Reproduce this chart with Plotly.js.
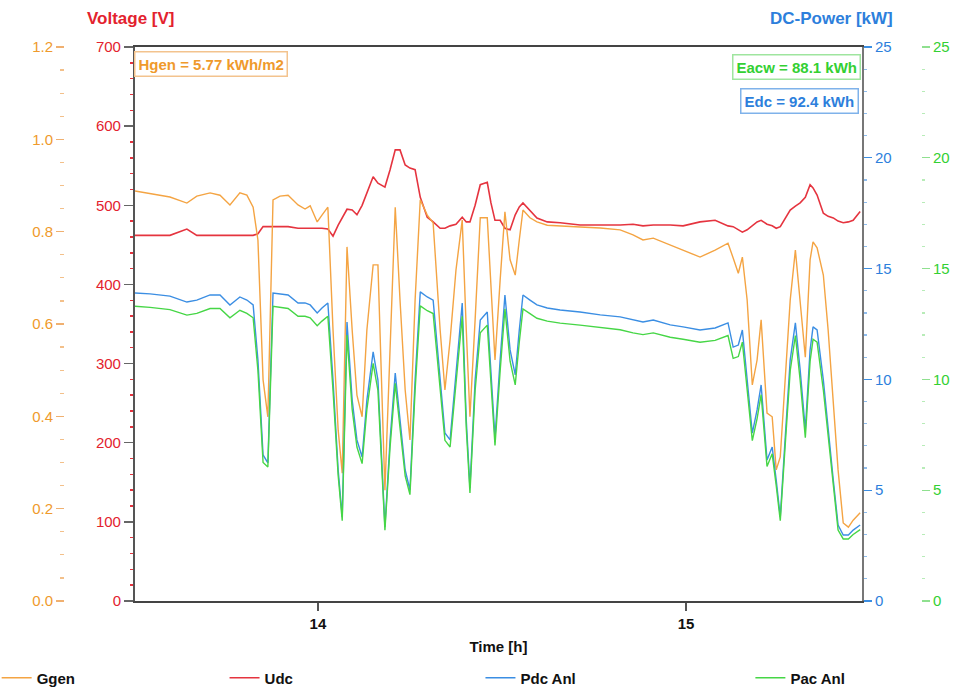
<!DOCTYPE html>
<html>
<head>
<meta charset="utf-8">
<script src="https://cdn.plot.ly/plotly-3.0.1.min.js"></script>
<style>
html,body{margin:0;padding:0;background:#fff;}
#chart{width:974px;height:689px;}
</style>
</head>
<body>
<div id="chart"></div>
<script>
// Time [h]
var time = [13.503,13.544,13.598,13.644,13.671,13.707,13.734,13.761,13.788,13.807,
 13.824,13.837,13.851,13.864,13.878,13.897,13.919,13.946,13.965,13.979,
 13.998,14.011,14.027,14.041,14.055,14.066,14.079,14.093,14.106,14.120,
 14.133,14.150,14.163,14.182,14.196,14.210,14.223,14.237,14.250,14.264,
 14.278,14.297,14.313,14.332,14.345,14.359,14.375,14.392,14.403,14.413,
 14.427,14.441,14.460,14.470,14.481,14.495,14.508,14.522,14.536,14.547,
 14.557,14.576,14.595,14.623,14.658,14.712,14.767,14.821,14.856,14.883,
 14.911,14.957,14.992,15.038,15.079,15.114,15.128,15.142,15.153,15.166,
 15.180,15.193,15.204,15.220,15.234,15.245,15.256,15.269,15.283,15.297,
 15.310,15.324,15.337,15.345,15.356,15.373,15.386,15.400,15.413,15.427,
 15.441,15.454,15.473];

// Ggen (irradiance, left outer axis 0..1.2)
var ggen = [0.888,0.882,0.875,0.862,0.877,0.884,0.879,0.858,0.884,0.879,
 0.853,0.782,0.479,0.399,0.869,0.877,0.879,0.858,0.849,0.856,
 0.821,0.836,0.853,0.587,0.370,0.277,0.767,0.587,0.446,0.399,
 0.587,0.728,0.728,0.240,0.544,0.853,0.652,0.457,0.349,0.652,
 0.869,0.836,0.819,0.587,0.457,0.565,0.717,0.825,0.587,0.399,
 0.609,0.830,0.830,0.674,0.522,0.695,0.843,0.739,0.706,0.782,
 0.847,0.830,0.821,0.814,0.812,0.810,0.808,0.804,0.793,0.782,
 0.786,0.771,0.760,0.745,0.760,0.775,0.743,0.710,0.745,0.652,
 0.468,0.522,0.609,0.407,0.399,0.284,0.312,0.479,0.652,0.760,
 0.652,0.528,0.739,0.778,0.765,0.706,0.587,0.429,0.284,0.169,
 0.160,0.175,0.191];

// Udc [V]
var udc = [462,462,462,470,462,462,462,462,462,462,
 462,464,473,473,473,473,473,471,471,471,
 471,471,470,461,475,484,495,494,488,500,
 516,536,528,523,545,570,570,551,547,545,
 510,485,479,471,471,474,476,485,479,479,
 500,526,529,503,481,481,471,469,488,498,
 503,494,484,479,478,475,475,475,476,474,
 475,475,474,479,481,474,473,469,466,469,
 474,479,481,476,474,471,473,484,494,499,
 503,510,526,522,513,490,486,484,480,478,
 479,481,492];

// Pdc Anl [kW]
var pdc = [13.90,13.86,13.76,13.49,13.58,13.81,13.81,13.36,13.72,13.58,
 13.36,10.88,6.59,6.23,13.90,13.86,13.81,13.45,13.45,13.36,
 13.00,13.22,13.45,9.97,5.91,3.79,12.59,9.07,7.27,6.50,
 9.07,11.24,9.97,3.34,7.27,10.29,8.17,5.91,5.01,9.97,
 13.95,13.72,13.58,9.97,7.58,7.27,10.43,13.45,8.17,5.10,
 9.97,12.68,13.04,10.43,7.36,10.88,13.81,11.33,10.20,12.23,
 13.81,13.58,13.36,13.22,13.13,13.04,12.91,12.82,12.68,12.59,
 12.68,12.46,12.37,12.23,12.32,12.55,11.46,11.55,12.23,9.97,
 7.58,8.62,9.75,6.36,6.95,5.46,3.79,7.27,10.88,12.55,
 10.43,7.72,11.33,12.37,12.23,9.97,7.72,5.46,3.43,2.98,
 2.98,3.20,3.43];

// Pac Anl [kW]
var pac = [13.30,13.25,13.15,12.90,12.98,13.20,13.20,12.78,13.12,12.98,
 12.78,10.40,6.25,6.05,13.30,13.25,13.20,12.85,12.85,12.78,
 12.42,12.63,12.85,9.50,5.65,3.62,12.00,8.65,6.95,6.20,
 8.65,10.72,9.50,3.20,6.95,9.82,7.80,5.65,4.80,9.50,
 13.32,13.10,12.97,9.50,7.25,6.95,9.95,12.85,7.80,4.88,
 9.50,12.10,12.45,9.95,7.02,10.38,13.18,10.82,9.75,11.68,
 13.18,12.97,12.76,12.63,12.54,12.45,12.33,12.24,12.10,12.02,
 12.10,11.90,11.81,11.68,11.76,11.98,10.95,11.03,11.68,9.52,
 7.24,8.23,9.31,6.07,6.64,5.21,3.62,6.94,10.39,11.98,
 9.96,7.37,10.82,11.81,11.68,9.52,7.37,5.21,3.20,2.80,
 2.80,3.00,3.22];

var xTicks = [14, 15];
var labels = {hgen: 'Hgen = 5.77 kWh/m2', eacw: 'Eacw = 88.1 kWh', edc: 'Edc = 92.4 kWh'};

var C_ORANGE = '#f4a443', C_RED = '#e5343f', C_BLUE = '#3b8ee3', C_GREEN = '#46d646';
var C_ORANGE_T = '#ef9a2c', C_RED_T = '#e3222e', C_BLUE_T = '#2d7fdc', C_GREEN_T = '#33d033';
var FONT = 'Liberation Sans, Arial, sans-serif';

var traces = [
  {x: time, y: udc, name: 'Udc', type: 'scatter', mode: 'lines', yaxis: 'y',
   line: {color: C_RED, width: 1.6}, legend: 'legend2'},
  {x: time, y: pdc, name: 'Pdc Anl', type: 'scatter', mode: 'lines', yaxis: 'y3',
   line: {color: C_BLUE, width: 1.4}, legend: 'legend3'},
  {x: time, y: pac, name: 'Pac Anl', type: 'scatter', mode: 'lines', yaxis: 'y4',
   line: {color: C_GREEN, width: 1.4}, legend: 'legend4'},
  {x: time, y: ggen, name: 'Ggen', type: 'scatter', mode: 'lines', yaxis: 'y2',
   line: {color: C_ORANGE, width: 1.4}, legend: 'legend'}
];

function legendAt(xp) {
  return {orientation: 'h', x: xp, xanchor: 'left', y: -0.139, yanchor: 'middle',
    font: {family: FONT, size: 15, color: '#111', weight: 'bold'}, bgcolor: 'rgba(0,0,0,0)', itemwidth: 30};
}

var layout = {
  width: 974, height: 689,
  margin: {l: 20, r: 20, t: 47, b: 88, autoexpand: false},
  paper_bgcolor: '#fff', plot_bgcolor: '#fff',
  font: {family: FONT},
  showlegend: true,
  legend: legendAt(-0.025),
  legend2: legendAt(0.219),
  legend3: legendAt(0.493),
  legend4: legendAt(0.782),
  xaxis: {
    domain: [0.1231, 0.9015],
    range: [13.503, 15.478], tickvals: xTicks, ticktext: xTicks.map(String),
    ticks: 'outside', ticklen: 8, tickwidth: 1.5, tickcolor: '#555',
    tickfont: {family: FONT, size: 15, color: '#111', weight: 'bold'},
    showline: true, linecolor: '#444', linewidth: 2, mirror: true,
    showgrid: false, zeroline: false,
    title: {text: 'Time [h]', font: {family: FONT, size: 15, color: '#111', weight: 'bold'}, standoff: 10}
  },
  yaxis: {
    range: [0, 700], dtick: 100, side: 'left', anchor: 'x',
    ticks: 'outside', ticklen: 9, tickwidth: 1.5, tickcolor: '#666',
    minor: {dtick: 20, ticks: 'outside', ticklen: 3, tickcolor: C_RED, tickwidth: 1.5},
    tickfont: {family: FONT, size: 15, color: C_RED_T},
    showline: true, linecolor: '#555', linewidth: 2,
    showgrid: false, zeroline: false
  },
  yaxis2: {
    range: [0, 1.2], dtick: 0.2, tickformat: '.1f', overlaying: 'y', side: 'left',
    anchor: 'free', position: 0.0471,
    ticks: 'outside', ticklen: 8, tickwidth: 1.2, tickcolor: '#f0b070',
    minor: {dtick: 0.05, ticks: 'outside', ticklen: 4, tickcolor: '#f3c08a', tickwidth: 1.2},
    tickfont: {family: FONT, size: 15, color: C_ORANGE_T},
    showline: false, showgrid: false, zeroline: false
  },
  yaxis3: {
    range: [0, 25], dtick: 5, overlaying: 'y', side: 'right', anchor: 'x',
    ticks: 'outside', ticklen: 8, tickwidth: 1.2, tickcolor: C_BLUE,
    minor: {dtick: 1, ticks: 'outside', ticklen: 3, tickcolor: '#8fbdee', tickwidth: 1.2},
    tickfont: {family: FONT, size: 15, color: C_BLUE_T},
    showline: true, linecolor: '#777', linewidth: 2,
    showgrid: false, zeroline: false
  },
  yaxis4: {
    range: [0, 25], dtick: 5, overlaying: 'y', side: 'right',
    anchor: 'free', position: 0.9647,
    ticks: 'outside', ticklen: 8, tickwidth: 1.2, tickcolor: '#8fe08f',
    minor: {dtick: 1, ticks: 'outside', ticklen: 3, tickcolor: '#b8ecb8', tickwidth: 1.2},
    tickfont: {family: FONT, size: 15, color: C_GREEN_T},
    showline: false, showgrid: false, zeroline: false
  },
  annotations: [
    {text: 'Voltage [V]', xref: 'x domain', yref: 'paper', x: -0.005, y: 1.03, xanchor: 'center', yanchor: 'bottom',
     showarrow: false, font: {family: FONT, size: 17, color: C_RED_T, weight: 'bold'}},
    {text: 'DC-Power [kW]', xref: 'x domain', yref: 'paper', x: 0.9587, y: 1.03, xanchor: 'center', yanchor: 'bottom',
     showarrow: false, font: {family: FONT, size: 17, color: C_BLUE_T, weight: 'bold'}},
    {text: labels.hgen, xref: 'x domain', yref: 'paper', x: -0.001, y: 0.993, xanchor: 'left', yanchor: 'top',
     showarrow: false, bgcolor: '#fff', bordercolor: '#f3c38e', borderwidth: 1.5, borderpad: 3,
     font: {family: FONT, size: 15, color: C_ORANGE_T, weight: 'bold'}},
    {text: labels.eacw, xref: 'x domain', yref: 'paper', x: 0.998, y: 0.988, xanchor: 'right', yanchor: 'top',
     showarrow: false, bgcolor: '#fff', bordercolor: '#9fe59f', borderwidth: 1.5, borderpad: 3,
     font: {family: FONT, size: 15, color: C_GREEN_T, weight: 'bold'}},
    {text: labels.edc, xref: 'x domain', yref: 'paper', x: 0.996, y: 0.926, xanchor: 'right', yanchor: 'top',
     showarrow: false, bgcolor: '#fff', bordercolor: '#7fb2ea', borderwidth: 1.5, borderpad: 3,
     font: {family: FONT, size: 15, color: C_BLUE_T, weight: 'bold'}}
  ]
};

Plotly.newPlot('chart', traces, layout, {displayModeBar: false, staticPlot: true});
</script>
</body>
</html>
